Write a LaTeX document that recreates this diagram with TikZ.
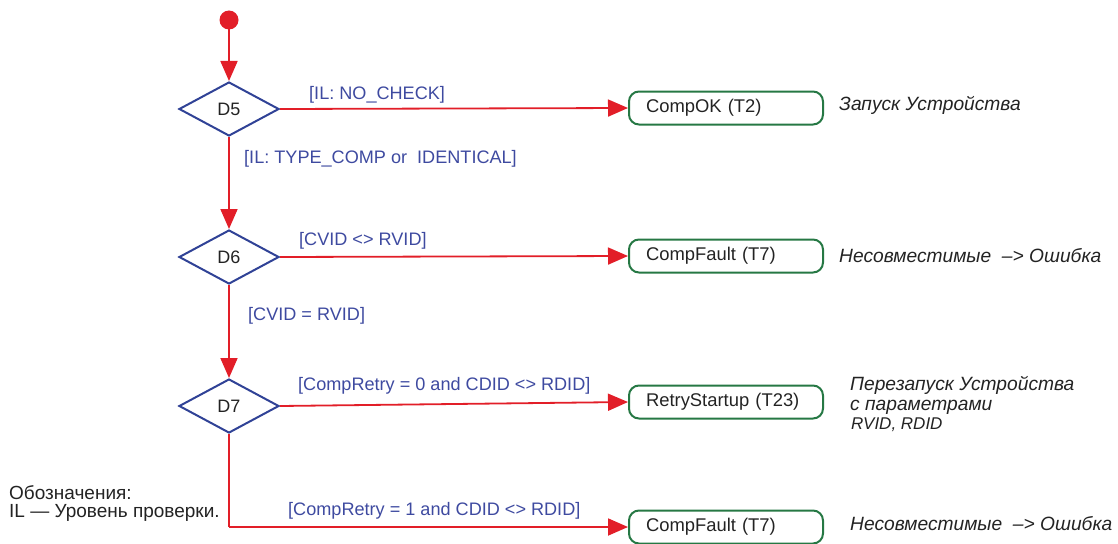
\documentclass[tikz,border=0pt]{standalone}
\usepackage{fontspec}
\setmainfont{Liberation Sans}
\usetikzlibrary{shapes.geometric,arrows.meta}
\definecolor{lred}{RGB}{226,30,40}
\definecolor{dblue}{RGB}{48,66,150}
\definecolor{lblue}{RGB}{62,74,160}
\definecolor{dgreen}{RGB}{38,120,68}
\definecolor{txt}{RGB}{35,35,35}
\tikzset{
  flow/.style={draw=lred,line width=1.8pt,-{Triangle[length=20pt,width=17pt]}},
  flowplain/.style={draw=lred,line width=1.8pt},
  decide/.style={diamond,draw=dblue,line width=2pt,minimum width=100pt,minimum height=54pt,inner sep=0pt,text=txt,font=\fontsize{18}{20}\selectfont},
  state/.style={draw=dgreen,line width=2pt,rounded corners=10pt,minimum height=33pt,text width=160pt,inner xsep=17pt,align=left,text=txt,font=\fontsize{18.4}{20}\selectfont},
  guard/.style={anchor=west,inner sep=0pt,text=lblue,font=\fontsize{18.1}{20}\selectfont},
  note/.style={anchor=west,inner sep=0pt,text=txt,align=left,font=\fontsize{19.2}{19.5}\itshape},
  legend/.style={anchor=west,inner sep=0pt,text=txt,align=left,font=\fontsize{19}{18}\selectfont}
}
\begin{document}
\begin{tikzpicture}[x=1pt,y=-1pt]
\useasboundingbox (0,0) rectangle (1118,543);
\fill[lred] (229,20) circle (9.5pt);
\coordinate (start) at (229,29);
\node[decide] (D5) at (229,109) {D5};
\node[decide] (D6) at (229,257) {D6};
\node[decide] (D7) at (229,406) {D7};
\node[state] (OK) at (726,108) {CompOK (T2)};
\node[state] (F1) at (726,256) {CompFault (T7)};
\node[state] (RS) at (726,402) {RetryStartup (T23)};
\node[state] (F2) at (726,527) {CompFault (T7)};
\coordinate (corner) at (229,527);

\draw[flow] (start) -- (D5.north);
\draw[flow] (D5.south) -- (D6.north);
\draw[flow] (D6.south) -- (D7.north);
\draw[flow] (D5.east) -- (OK.west);
\draw[flow] (D6.east) -- (F1.west);
\draw[flow] (D7.east) -- (RS.west);
\draw[flowplain] (D7.south) -- (corner);
\draw[flow] (corner) -- (F2.west);

\node[guard] (g1) at (309,95) {[IL: NO\_CHECK]};
\node[guard] (g2) at (244,159) {[IL: TYPE\_COMP or\ \ IDENTICAL]};
\node[guard] (g3) at (299,241) {[CVID <> RVID]};
\node[guard] (g4) at (248,316) {[CVID = RVID]};
\node[guard] (g5) at (298,386) {[CompRetry = 0 and CDID <> RDID]};
\node[guard] (g6) at (288,511) {[CompRetry = 1 and CDID <> RDID]};

\node[note] (n1) at (839,105) {Запуск Устройства};
\node[note] (n2) at (839,256) {Несовместимые\ \ –> Ошибка};
\node[note] (n3) at (850,404) {Перезапуск Устройства\\с параметрами\\\hspace*{1pt}{\fontsize{17}{18}\itshape RVID, RDID}};
\node[note] (n4) at (850,524) {Несовместимые\ \ –> Ошибка};

\node[legend] (lg) at (9,503) {Обозначения:\\IL — Уровень проверки.};
\end{tikzpicture}
\end{document}
